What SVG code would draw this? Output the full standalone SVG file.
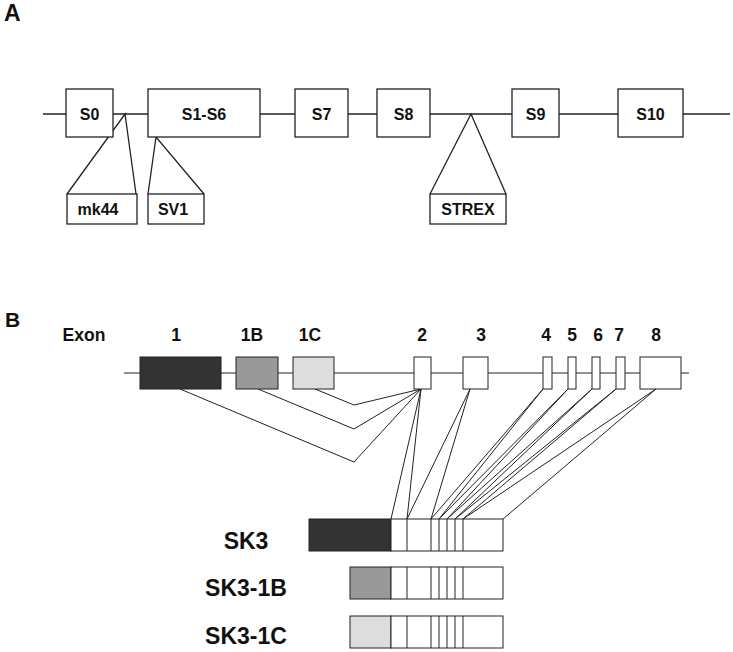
<svg xmlns="http://www.w3.org/2000/svg" width="733" height="652" viewBox="0 0 733 652">
<style>
.bx{fill:#fff;stroke:#222;stroke-width:1.3}
.ln{fill:none;stroke:#222;stroke-width:1.3}
.lb{fill:none;stroke:#222;stroke-width:1}
.t{font-family:"Liberation Sans",Arial,sans-serif;font-weight:bold;fill:#111;text-anchor:middle}
.s16{font-size:16px}
.s17{font-size:17.5px}
.s23{font-size:23px}
.panel{font-family:"Liberation Sans",Arial,sans-serif;font-weight:bold;fill:#111}
</style>
<rect width="733" height="652" fill="#fff"/>
<text class="panel" x="4" y="21" font-size="23">A</text>
<text class="panel" x="5" y="327" font-size="21">B</text>

<g id="connectors">
  <!-- Panel A -->
  <line class="ln" x1="43" y1="114" x2="730" y2="114"/>
  <polyline class="ln" points="67,194 125,114 136,194"/>
  <polyline class="ln" points="148,194 156,137 204,194"/>
  <polyline class="ln" points="430,194 471,114 506,194"/>
  <!-- Panel B -->
  <line class="lb" x1="124" y1="373" x2="689" y2="373"/>
  <polyline class="lb" points="315,389 354,405 421,389"/>
  <polyline class="lb" points="258,389 354,429 421,389"/>
  <polyline class="lb" points="180,389 354,462 421,389"/>
  <polyline class="lb" points="391,519 421,389 407,519"/>
  <polyline class="lb" points="407,519 470,389 431,519"/>
  <polyline class="lb" points="431,519 543,389 439,519"/>
  <polyline class="lb" points="439,519 568,389 447,519"/>
  <polyline class="lb" points="447,519 592,389 455,519"/>
  <polyline class="lb" points="455,519 616,389 463,519"/>
  <polyline class="lb" points="463,519 656,389 503,519"/>
</g>

<g id="S0"><rect class="bx" x="66" y="89" width="47" height="48"/><text class="t s16" x="89.5" y="120">S0</text></g>
<g id="S1-S6"><rect class="bx" x="148" y="89" width="112" height="48"/><text class="t s16" x="204" y="120">S1-S6</text></g>
<g id="S7"><rect class="bx" x="295" y="89" width="53" height="48"/><text class="t s16" x="321.5" y="120">S7</text></g>
<g id="S8"><rect class="bx" x="377" y="89" width="53" height="48"/><text class="t s16" x="403.5" y="120">S8</text></g>
<g id="S9"><rect class="bx" x="512" y="89" width="47" height="48"/><text class="t s16" x="535.5" y="120">S9</text></g>
<g id="S10"><rect class="bx" x="618" y="89" width="65" height="48"/><text class="t s16" x="650.5" y="120">S10</text></g>
<g id="mk44"><rect class="bx" x="67" y="194" width="70" height="30"/><text class="t s16" x="98" y="215">mk44</text></g>
<g id="SV1"><rect class="bx" x="148" y="194" width="56" height="30"/><text class="t s16" x="173" y="215">SV1</text></g>
<g id="STREX"><rect class="bx" x="430" y="194" width="76" height="30"/><text class="t s16" x="468" y="215">STREX</text></g>

<g id="exon-labels">
  <text class="t s17" x="84" y="341">Exon</text>
  <text class="t s17" x="176" y="341">1</text>
  <text class="t s17" x="252" y="341">1B</text>
  <text class="t s17" x="310" y="341">1C</text>
  <text class="t s17" x="422" y="341">2</text>
  <text class="t s17" x="481" y="341">3</text>
  <text class="t s17" x="546" y="341">4</text>
  <text class="t s17" x="572" y="341">5</text>
  <text class="t s17" x="598" y="341">6</text>
  <text class="t s17" x="619" y="341">7</text>
  <text class="t s17" x="656" y="341">8</text>
</g>
<g id="exon1"><rect class="lb" x="140" y="357" width="81" height="32" style="fill:#333"/></g>
<g id="exon1B"><rect class="lb" x="236" y="357" width="42" height="32" style="fill:#999"/></g>
<g id="exon1C"><rect class="lb" x="293" y="357" width="41" height="32" style="fill:#ddd"/></g>
<g id="exon2"><rect class="lb" x="414" y="357" width="17" height="32" style="fill:#fff"/></g>
<g id="exon3"><rect class="lb" x="463" y="357" width="25" height="32" style="fill:#fff"/></g>
<g id="exon4"><rect class="lb" x="543" y="357" width="9" height="32" style="fill:#fff"/></g>
<g id="exon5"><rect class="lb" x="568" y="357" width="8" height="32" style="fill:#fff"/></g>
<g id="exon6"><rect class="lb" x="592" y="357" width="8" height="32" style="fill:#fff"/></g>
<g id="exon7"><rect class="lb" x="616" y="357" width="9" height="32" style="fill:#fff"/></g>
<g id="exon8"><rect class="lb" x="640" y="357" width="41" height="32" style="fill:#fff"/></g>

<g id="SK3">
  <text class="t s23" x="246" y="549">SK3</text>
  <rect class="lb" x="309" y="519" width="82" height="32" style="fill:#333"/>
  <rect class="lb" x="391" y="519" width="112" height="32" style="fill:#fff"/>
  <path class="lb" d="M407,519V551M431,519V551M439,519V551M447,519V551M455,519V551M463,519V551"/>
</g>
<g id="SK3-1B">
  <text class="t s23" x="246" y="596">SK3-1B</text>
  <rect class="lb" x="350" y="567" width="41" height="32" style="fill:#999"/>
  <rect class="lb" x="391" y="567" width="112" height="32" style="fill:#fff"/>
  <path class="lb" d="M407,567V599M431,567V599M439,567V599M447,567V599M455,567V599M463,567V599"/>
</g>
<g id="SK3-1C">
  <text class="t s23" x="246" y="644">SK3-1C</text>
  <rect class="lb" x="350" y="616" width="41" height="32" style="fill:#ddd"/>
  <rect class="lb" x="391" y="616" width="112" height="32" style="fill:#fff"/>
  <path class="lb" d="M407,616V648M431,616V648M439,616V648M447,616V648M455,616V648M463,616V648"/>
</g>
</svg>
